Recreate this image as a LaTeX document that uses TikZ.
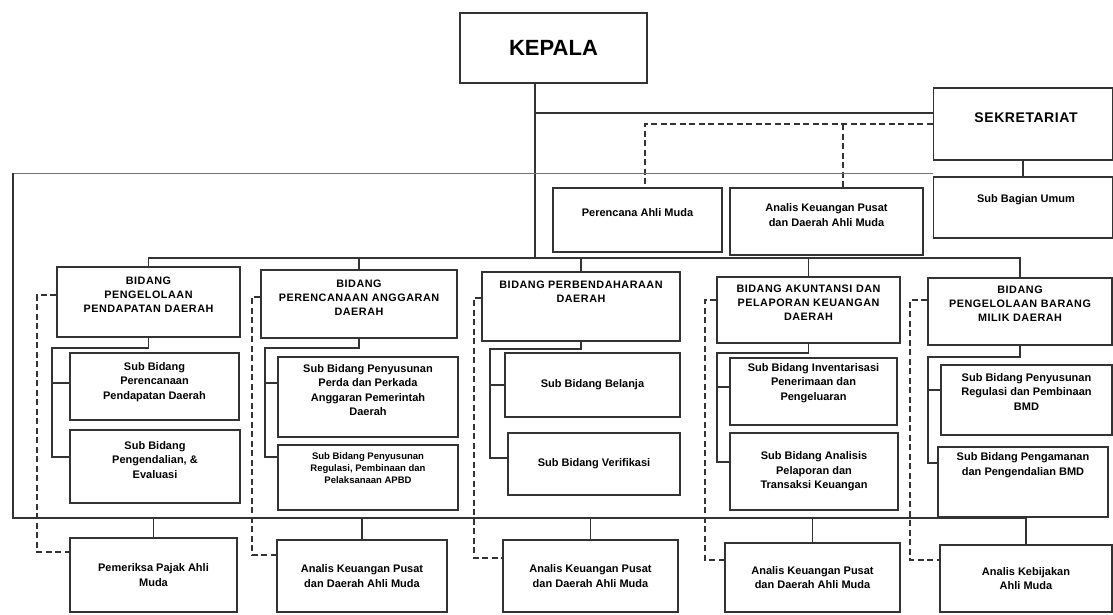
\documentclass[tikz,border=0pt]{standalone}
\usepackage{fontspec}
\setmainfont{Liberation Sans}
\begin{document}
\begin{tikzpicture}[x=1pt,y=-1pt,
  ln/.style={draw=black!80, line width=1.1pt},
  faint/.style={draw=black!55, line width=0.9pt},
  dl/.style={draw=black!80, line width=1.5pt, dash pattern=on 6pt off 3.5pt},
  box/.style={draw=black!80, line width=1.1pt, fill=white, inner sep=0pt, align=center, font=\bfseries\fontsize{11}{14.5}\selectfont},
  txt/.style={align=center, inner sep=0pt, font=\bfseries\fontsize{11}{14.5}\selectfont},
  btxt/.style={align=center, inner sep=0pt, font=\bfseries\fontsize{10.8}{14}\selectfont\addfontfeatures{LetterSpace=5}},
]
\useasboundingbox (0,0) rectangle (1113,614);

% ---------- top level ----------
\node[box, minimum width=187pt, minimum height=70pt, font=\bfseries\fontsize{22}{24}\selectfont] (kepala) at (553.5,48) {KEPALA};
\node[box, minimum width=179pt, minimum height=72pt] (sekr) at (1023,124) {};
\node[txt, font=\bfseries\fontsize{14}{16}\selectfont\addfontfeatures{LetterSpace=4}] (sekrT) at (1026,118) {SEKRETARIAT};
\node[box, minimum width=179pt, minimum height=61pt] (subum) at (1023,207.5) {};
\node[txt] (subumT) at (1026,200) {Sub Bagian Umum};
\node[box, minimum width=169pt, minimum height=64pt] (penata) at (637.5,220) {};
\node[txt] (penataT) at (637.5,213) {Perencana Ahli Muda};
\node[box, minimum width=193pt, minimum height=67pt] (analis0) at (826.5,221.5) {};
\node[txt] (analis0T) at (826.5,215) {Analis Keuangan Pusat\\dan Daerah Ahli Muda};

% ---------- bidang ----------
\node[box, minimum width=183pt, minimum height=70pt] (b1) at (148.5,302) {};
\node[btxt] (b1T) at (148.5,295) {BIDANG\\PENGELOLAAN\\PENDAPATAN DAERAH};
\node[box, minimum width=196pt, minimum height=68pt] (b2) at (359,304) {};
\node[btxt] (b2T) at (359,298) {BIDANG\\PERENCANAAN ANGGARAN\\DAERAH};
\node[box, minimum width=198pt, minimum height=69pt] (b3) at (581,306.5) {};
\node[btxt] (b3T) at (581,292) {BIDANG PERBENDAHARAAN\\DAERAH};
\node[box, minimum width=183pt, minimum height=66pt] (b4) at (808.5,310) {};
\node[btxt] (b4T) at (808.5,303) {BIDANG AKUNTANSI DAN\\PELAPORAN KEUANGAN\\DAERAH};
\node[box, minimum width=184pt, minimum height=67pt] (b5) at (1020,311.5) {};
\node[btxt] (b5T) at (1020,304) {BIDANG\\PENGELOLAAN BARANG\\MILIK DAERAH};

% ---------- sub bidang ----------
\node[box, minimum width=169pt, minimum height=67pt] (s11) at (154.5,386.5) {};
\node[txt] (s11T) at (154.5,382) {Sub Bidang\\Perencanaan\\Pendapatan Daerah};
\node[box, minimum width=170pt, minimum height=73pt] (s12) at (155,466.5) {};
\node[txt] (s12T) at (155,460) {Sub Bidang\\Pengendalian, \&\\Evaluasi};
\node[box, minimum width=180pt, minimum height=80pt] (s21) at (368,397) {};
\node[txt] (s21T) at (368,390) {Sub Bidang Penyusunan\\Perda dan Perkada\\Anggaran Pemerintah\\Daerah};
\node[box, minimum width=180pt, minimum height=65pt] (s22) at (368,477.5) {};
\node[txt, font=\bfseries\fontsize{9.5}{12}\selectfont] (s22T) at (368,468) {Sub Bidang Penyusunan\\Regulasi, Pembinaan dan\\Pelaksanaan APBD};
\node[box, minimum width=175pt, minimum height=64pt] (s31) at (592.5,385) {Sub Bidang Belanja};
\node[box, minimum width=172pt, minimum height=62pt] (s32) at (594,464) {Sub Bidang Verifikasi};
\node[box, minimum width=167pt, minimum height=67pt] (s41) at (813.5,391.5) {};
\node[txt] (s41T) at (813.5,383) {Sub Bidang Inventarisasi\\Penerimaan dan\\Pengeluaran};
\node[box, minimum width=168pt, minimum height=77pt] (s42) at (814,471.5) {Sub Bidang Analisis\\Pelaporan dan\\Transaksi Keuangan};
\node[box, minimum width=171pt, minimum height=70pt] (s51) at (1026.5,400) {};
\node[txt] (s51T) at (1026.5,392) {Sub Bidang Penyusunan\\Regulasi dan Pembinaan\\BMD};
\node[box, minimum width=170pt, minimum height=70pt] (s52) at (1023,482) {};
\node[txt] (s52T) at (1023,465) {Sub Bidang Pengamanan\\dan Pengendalian BMD};

% ---------- fungsional ----------
\node[box, minimum width=167pt, minimum height=74pt] (f1) at (153.5,575) {Pemeriksa Pajak Ahli\\Muda};
\node[box, minimum width=170pt, minimum height=72pt] (f2) at (362,576) {Analis Keuangan Pusat\\dan Daerah Ahli Muda};
\node[box, minimum width=175pt, minimum height=72pt] (f3) at (590.5,576) {Analis Keuangan Pusat\\dan Daerah Ahli Muda};
\node[box, minimum width=175pt, minimum height=69pt] (f4) at (812.5,577.5) {Analis Keuangan Pusat\\dan Daerah Ahli Muda};
\node[box, minimum width=172pt, minimum height=67pt] (f5) at (1026,578.5) {Analis Kebijakan\\Ahli Muda};

% ---------- connectors: top ----------
\coordinate (kj) at (535,113);
\coordinate (kb) at (535,258);
\draw[ln] (kepala.south -| kb) -- (kb);
\draw[ln] (kj) -- (kj -| sekr.west);
\draw[ln] (sekr.south) -- (subum.north);
\coordinate (dj1) at (645,124);
\coordinate (dj2) at (843,124);
\draw[dl] (dj1 -| sekr.west) -- (dj1) -- (dj1 |- penata.north);
\draw[dl] (dj2) -- (dj2 |- analis0.north);

% loop to the functional row
\coordinate (lt) at (13,173);
\coordinate (lb) at (13,518);
\draw[faint] (lt -| subum.west) -- (lt);
\draw[ln] (lt) -- (lb) -- (lb -| f5.north);
\foreach \f in {f1,f2,f3,f4,f5} \draw[ln] (\f.north |- lb) -- (\f.north);

% bidang bus
\coordinate (bb) at (0,258);
\draw[ln] (b1.north) -- (b1.north |- bb) -- (b5.north |- bb) -- (b5.north);
\foreach \b in {b2,b3,b4} \draw[ln] (\b.north |- bb) -- (\b.north);

% sub bidang spines
\coordinate (c1t) at (52,348);  \coordinate (c1m) at (52,383);  \coordinate (c1b) at (52,457);
\coordinate (c2t) at (265,348); \coordinate (c2m) at (265,383); \coordinate (c2b) at (265,457);
\coordinate (c3t) at (490,349); \coordinate (c3m) at (490,385); \coordinate (c3b) at (490,458);
\coordinate (c4t) at (717,353); \coordinate (c4m) at (717,387); \coordinate (c4b) at (717,462);
\coordinate (c5t) at (928,357); \coordinate (c5m) at (928,390); \coordinate (c5b) at (928,463);
\draw[ln] (b1.south) -- (b1.south |- c1t) -- (c1t) -- (c1b) -- (c1b -| s12.west);
\draw[ln] (c1m) -- (c1m -| s11.west);
\draw[ln] (b2.south) -- (b2.south |- c2t) -- (c2t) -- (c2b) -- (c2b -| s22.west);
\draw[ln] (c2m) -- (c2m -| s21.west);
\draw[ln] (b3.south) -- (b3.south |- c3t) -- (c3t) -- (c3b) -- (c3b -| s32.west);
\draw[ln] (c3m) -- (c3m -| s31.west);
\draw[ln] (b4.south) -- (b4.south |- c4t) -- (c4t) -- (c4b) -- (c4b -| s42.west);
\draw[ln] (c4m) -- (c4m -| s41.west);
\draw[ln] (b5.south) -- (b5.south |- c5t) -- (c5t) -- (c5b) -- (c5b -| s52.west);
\draw[ln] (c5m) -- (c5m -| s51.west);

% dashed coordination lines
\coordinate (d1t) at (37,295);  \coordinate (d1b) at (37,552);
\coordinate (d2t) at (252,297); \coordinate (d2b) at (252,555);
\coordinate (d3t) at (474,298); \coordinate (d3b) at (474,558);
\coordinate (d4t) at (705,300); \coordinate (d4b) at (705,560);
\coordinate (d5t) at (910,300); \coordinate (d5b) at (910,560);
\draw[dl] (d1t -| b1.west) -- (d1t) -- (d1b) -- (d1b -| f1.west);
\draw[dl] (d2t -| b2.west) -- (d2t) -- (d2b) -- (d2b -| f2.west);
\draw[dl] (d3t -| b3.west) -- (d3t) -- (d3b) -- (d3b -| f3.west);
\draw[dl] (d4t -| b4.west) -- (d4t) -- (d4b) -- (d4b -| f4.west);
\draw[dl] (d5t -| b5.west) -- (d5t) -- (d5b) -- (d5b -| f5.west);
\end{tikzpicture}
\end{document}
